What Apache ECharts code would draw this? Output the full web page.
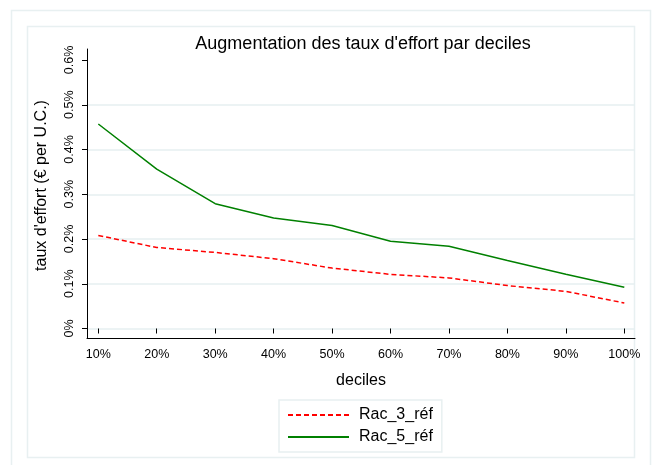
<!DOCTYPE html>
<html>
<head>
<meta charset="utf-8">
<script src="https://cdn.jsdelivr.net/npm/echarts@6/dist/echarts.min.js"></script>
<style>html,body{margin:0;padding:0;background:#fff;}#c{width:652px;height:465px;}</style>
</head>
<body>
<div id="c"></div>
<script>
// Data (values in percent)
const deciles = [10, 20, 30, 40, 50, 60, 70, 80, 90, 100];
const rac3 = [0.208, 0.181, 0.170, 0.156, 0.135, 0.121, 0.113, 0.096, 0.083, 0.057];
const rac5 = [0.457, 0.356, 0.279, 0.247, 0.230, 0.195, 0.184, 0.152, 0.121, 0.092];
const yTicks = [0, 0.1, 0.2, 0.3, 0.4, 0.5, 0.6];
const seriesNames = ['Rac_3_réf', 'Rac_5_réf'];

const FONT = 'Liberation Sans, Arial, Helvetica, sans-serif';
const GRID_C = '#e6eff0';
const pct = v => (Math.round(v * 10) / 10) + '%';

const chart = echarts.init(document.getElementById('c'), null, {renderer: 'canvas'});
chart.setOption({
  backgroundColor: '#ffffff',
  animation: false,
  textStyle: {fontFamily: FONT},
  title: {
    text: 'Augmentation des taux d\'effort par deciles',
    left: 358, top: 30, textAlign: 'center',
    textStyle: {fontFamily: FONT, fontSize: 18, fontWeight: 'normal', color: '#000'}
  },
  graphic: [
    {type: 'rect', z: -10, shape: {x: 11.5, y: 10.5, width: 639, height: 460}, style: {fill: 'none', stroke: '#e8f0f1', lineWidth: 1.5}},
    {type: 'rect', z: -10, shape: {x: 27.5, y: 26.5, width: 607, height: 431}, style: {fill: 'none', stroke: '#e8f0f1', lineWidth: 1.5}}
  ],
  legend: {
    data: seriesNames,
    orient: 'vertical',
    left: 279, top: 400,
    padding: [7, 9, 7, 8],
    itemGap: 6,
    itemWidth: 61, itemHeight: 14,
    itemStyle: {opacity: 0},
    borderColor: '#e8f0f1', borderWidth: 1.5,
    textStyle: {fontFamily: FONT, fontSize: 16, color: '#000', padding: [0, 0, 0, 5]}
  },
  grid: [
    {left: 87, right: 17, top: 60, bottom: 136.5, containLabel: false},
    {left: 87, right: 17, top: 49, bottom: 127, containLabel: false},
    {left: 98.3, right: 27.7, top: 60, bottom: 136.5, containLabel: false}
  ],
  xAxis: [
    {gridIndex: 0, type: 'value', min: 0, max: 1, show: false},
    {gridIndex: 1, type: 'value', min: 0, max: 1,
     axisLine: {show: true, lineStyle: {color: '#000', width: 1}},
     axisTick: {show: false}, axisLabel: {show: false}, splitLine: {show: false},
     name: 'deciles', nameLocation: 'middle', nameGap: 35,
     nameTextStyle: {fontFamily: FONT, fontSize: 16, color: '#000'}},
    {gridIndex: 2, type: 'value', min: 10, max: 100, interval: 10, offset: 9.5,
     axisLine: {show: false},
     axisTick: {show: true, length: 5, lineStyle: {color: '#000'}},
     axisLabel: {show: true, margin: 10, formatter: v => v + '%', fontFamily: FONT, fontSize: 12.5, color: '#000'},
     splitLine: {show: false}}
  ],
  yAxis: [
    {gridIndex: 0, type: 'value', min: 0, max: 0.6, interval: 0.1,
     axisLine: {show: false},
     axisTick: {show: true, length: 5, lineStyle: {color: '#000'}},
     axisLabel: {show: true, rotate: 90, margin: 11, formatter: pct, fontFamily: FONT, fontSize: 12.5, color: '#000'},
     splitLine: {show: true, lineStyle: {color: [GRID_C, GRID_C, GRID_C, GRID_C, GRID_C, GRID_C, 'rgba(0,0,0,0)'], width: 1.5}}},
    {gridIndex: 1, type: 'value', min: 0, max: 1,
     axisLine: {show: true, lineStyle: {color: '#000', width: 1}},
     axisTick: {show: false}, axisLabel: {show: false}, splitLine: {show: false},
     name: 'taux d\'effort (€ per U.C.)', nameLocation: 'middle', nameRotate: 90, nameGap: 37,
     nameTextStyle: {fontFamily: FONT, fontSize: 16, color: '#000', padding: [0, 0, 0, 16]}},
    {gridIndex: 2, type: 'value', min: 0, max: 0.6, show: false}
  ],
  series: [
    {name: seriesNames[0], type: 'line', xAxisIndex: 2, yAxisIndex: 2,
     data: deciles.map((d, i) => [d, rac3[i]]),
     symbol: 'none', smooth: false,
     lineStyle: {color: '#ff0000', width: 1.5, type: [5, 3]},
     itemStyle: {color: '#ff0000'}},
    {name: seriesNames[1], type: 'line', xAxisIndex: 2, yAxisIndex: 2,
     data: deciles.map((d, i) => [d, rac5[i]]),
     symbol: 'none', smooth: false,
     lineStyle: {color: '#008000', width: 1.5, type: 'solid'},
     itemStyle: {color: '#008000'}}
  ]
});
</script>
</body>
</html>
